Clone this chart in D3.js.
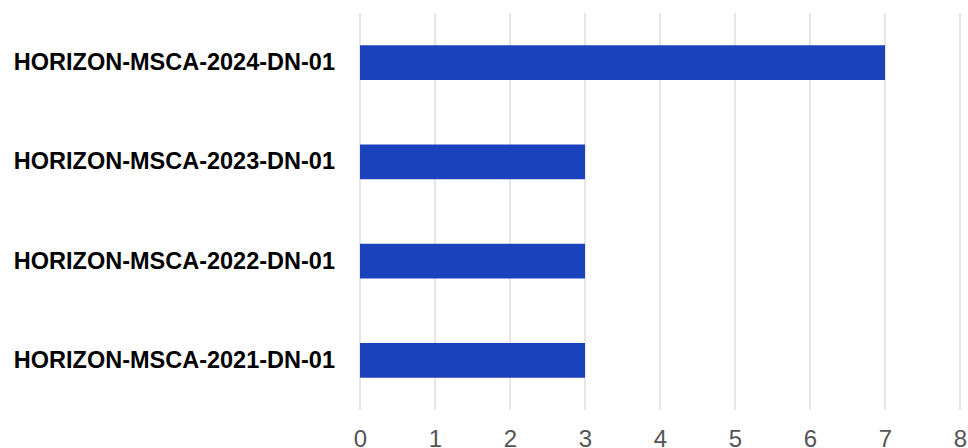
<!DOCTYPE html>
<html>
<head>
<meta charset="utf-8">
<script src="https://cdn.jsdelivr.net/npm/d3@7"></script>
<style>
  body { margin: 0; background: #fff; }
  svg { display: block; }
</style>
</head>
<body>
<div id="wrapper"></div>
<script>
// Dados
const calls = ["HORIZON-MSCA-2024-DN-01", "HORIZON-MSCA-2023-DN-01", "HORIZON-MSCA-2022-DN-01", "HORIZON-MSCA-2021-DN-01"];
const counts = [7, 3, 3, 3];
const xTicks = [0, 1, 2, 3, 4, 5, 6, 7, 8];

const width = 968, height = 448;
const margin = { top: 13, right: 8, bottom: 38, left: 360 };

const svg = d3.select("#wrapper").append("svg")
  .attr("width", width)
  .attr("height", height);

const x = d3.scaleLinear().domain([0, 8]).range([margin.left, width - margin.right]);
const y = d3.scaleBand().domain(calls).range([margin.top, height - margin.bottom]).paddingInner(0.65).paddingOuter(0.325);

// linhas de grade
svg.append("g")
  .selectAll("line")
  .data(xTicks)
  .join("line")
    .attr("x1", d => x(d))
    .attr("x2", d => x(d))
    .attr("y1", margin.top)
    .attr("y2", height - margin.bottom)
    .attr("stroke", "#d9d9d9")
    .attr("stroke-width", 1.3);

// barras
svg.append("g")
  .selectAll("rect")
  .data(calls)
  .join("rect")
    .attr("x", x(0))
    .attr("y", d => y(d))
    .attr("width", (d, i) => x(counts[i]) - x(0))
    .attr("height", y.bandwidth())
    .attr("fill", "#1c41bd");

// eixo x
const xAxis = svg.append("g")
  .attr("transform", "translate(0," + (height - margin.bottom) + ")")
  .call(d3.axisBottom(x).tickValues(xTicks).tickSize(0).tickPadding(20));
xAxis.select(".domain").remove();
xAxis.selectAll("text")
  .attr("font-family", "'Liberation Sans', Arial, sans-serif")
  .attr("font-size", 24)
  .attr("fill", "#555");

// eixo y
const yAxis = svg.append("g")
  .attr("transform", "translate(" + (margin.left - 25) + ",0)")
  .call(d3.axisLeft(y).tickSize(0).tickPadding(0));
yAxis.select(".domain").remove();
yAxis.selectAll("text")
  .attr("font-family", "'Liberation Sans', Arial, sans-serif")
  .attr("font-size", 23.5)
  .attr("font-weight", "bold")
  .attr("fill", "#000");
</script>
</body>
</html>
